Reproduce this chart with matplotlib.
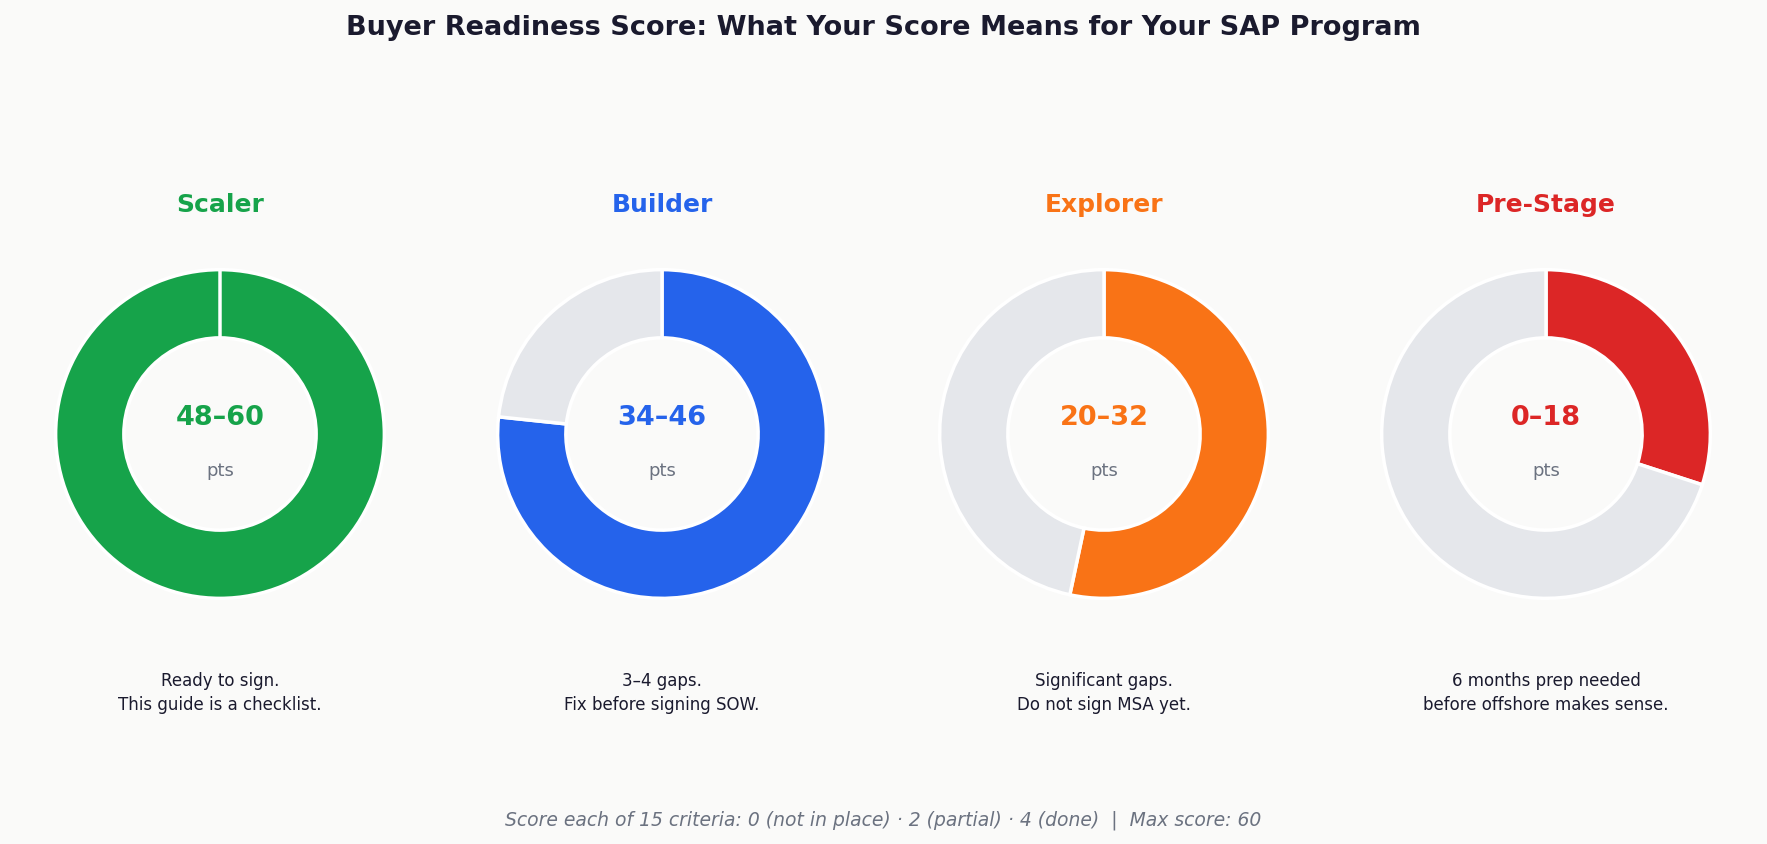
import matplotlib.pyplot as plt

# tiers and their score bands
tiers = ["Scaler", "Builder", "Explorer", "Pre-Stage"]
ranges = ["48\u201360", "34\u201346", "20\u201332", "0\u201318"]
top_scores = [60, 46, 32, 18]
max_score = 60
colors = ["#16a34a", "#2563eb", "#f97316", "#dc2626"]
notes = [
    "Ready to sign.\nThis guide is a checklist.",
    "3\u20134 gaps.\nFix before signing SOW.",
    "Significant gaps.\nDo not sign MSA yet.",
    "6 months prep needed\nbefore offshore makes sense.",
]

bg = "#fafaf9"
W, H = 1767, 844


def main():
    fig = plt.figure(figsize=(W / 100, H / 100), dpi=100, facecolor=bg)

    fig.text(0.5, 1 - 28 / H, "Buyer Readiness Score: What Your Score Means for Your SAP Program",
             ha="center", va="center", fontsize=19.5, fontweight="bold", color="#1a1a2e")

    r = 166
    cy = 434
    for i, tier in enumerate(tiers):
        cx = 220 + i * 442
        ax = fig.add_axes([(cx - r) / W, 1 - (cy + r) / H, 2 * r / W, 2 * r / H])
        ax.set_facecolor(bg)
        ax.pie([top_scores[i], max_score - top_scores[i]], colors=[colors[i], "#e5e7eb"],
               startangle=90, counterclock=False, radius=1,
               wedgeprops=dict(width=0.415, edgecolor="white", linewidth=2.5))
        ax.set_xlim(-1.01, 1.01)
        ax.set_ylim(-1.01, 1.01)
        ax.set_aspect("equal")
        ax.axis("off")

        fx = cx / W
        fig.text(fx, 1 - 205 / H, tier, ha="center", va="center",
                 fontsize=18, fontweight="bold", color=colors[i])
        fig.text(fx, 1 - 418 / H, ranges[i], ha="center", va="center",
                 fontsize=19.5, fontweight="bold", color=colors[i])
        fig.text(fx, 1 - 471 / H, "pts", ha="center", va="center",
                 fontsize=13, color="#6b7280")
        fig.text(fx, 1 - 693 / H, notes[i], ha="center", va="center",
                 fontsize=12, color="#1a1a2e", linespacing=1.5)

    fig.text(0.5, 1 - 820 / H,
             "Score each of 15 criteria: 0 (not in place) \u00b7 2 (partial) \u00b7 4 (done)  |  Max score: 60",
             ha="center", va="center", fontsize=13.5, style="italic", color="#6b7280")

    fig.savefig("out.png", dpi=100, facecolor=bg)
    plt.close()


if __name__ == "__main__":
    main()
